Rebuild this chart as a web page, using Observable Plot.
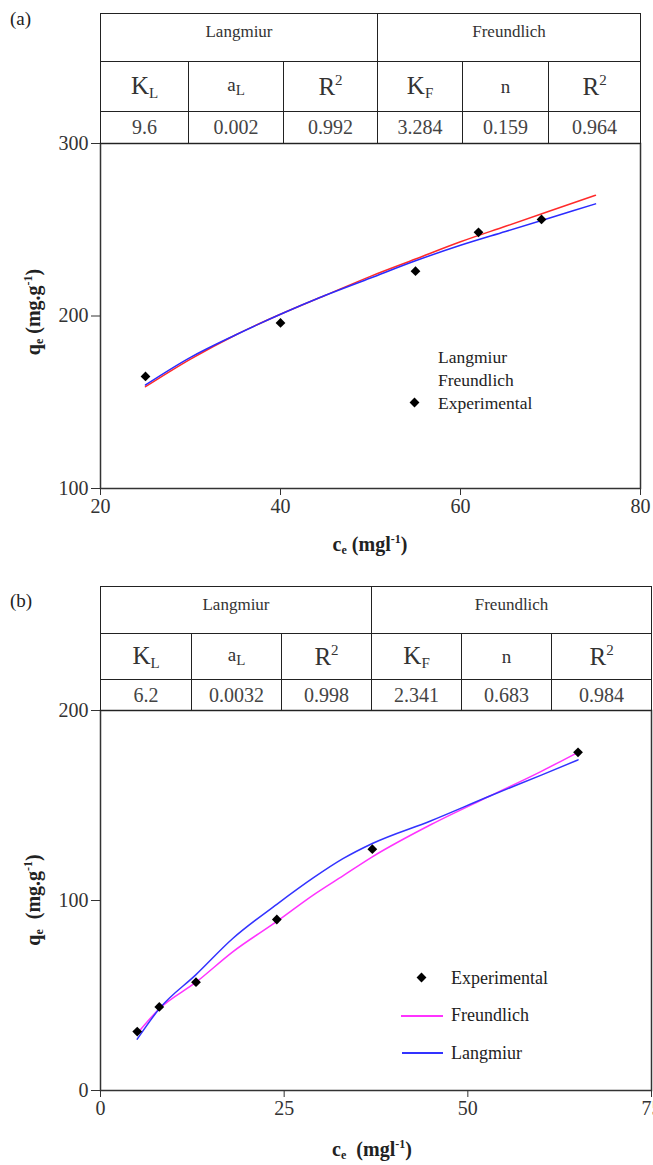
<!DOCTYPE html>
<html><head><meta charset="utf-8">
<script src="https://cdn.jsdelivr.net/npm/d3@7"></script>
<script src="https://cdn.jsdelivr.net/npm/@observablehq/plot@0.6"></script>
<style>
html,body{margin:0;padding:0;background:#fff;overflow:hidden;}
#root{position:relative;width:653px;height:1165px;font-family:"Liberation Serif","Times New Roman",serif;color:#222;overflow:hidden;}
.abs{position:absolute;white-space:nowrap;}
table.t{position:absolute;border-collapse:collapse;table-layout:fixed;}
table.t td{border:1.5px solid #222;text-align:center;padding:0;color:#333;}
td.h{font-size:17px;vertical-align:top;padding-top:8px !important;}
td.p{font-size:25px;}
td.p sub{font-size:15px;vertical-align:-4px;}
td.p sup{font-size:15px;vertical-align:10px;}
td.v{font-size:20px;color:#444 !important;}
.ttl{font-weight:bold;font-size:20px;color:#222;}
.ttl sub{font-size:12px;vertical-align:-3px;}
.ttl sup{font-size:12px;vertical-align:8px;}
.leg{font-size:18px;color:#222;}
</style></head><body><div id="root"></div>
<script>
// ---------- data ----------
const modelNames = ["Langmiur", "Freundlich"];
const paramLabels = ["K<sub>L</sub>", "a<sub>L</sub>", "R<sup>2</sup>", "K<sub>F</sub>", "n", "R<sup>2</sup>"];
const paramValuesA = ["9.6", "0.002", "0.992", "3.284", "0.159", "0.964"];
const paramValuesB = ["6.2", "0.0032", "0.998", "2.341", "0.683", "0.984"];

const xTicksA = [20, 40, 60, 80];
const yTicksA = [100, 200, 300];
const xTicksB = [0, 25, 50, 75];
const yTicksB = [0, 100, 200];

// panel (a)
const ceExpA = [25, 40, 55, 62, 69];
const qeExpA = [165, 196, 226, 248.5, 256];
const ceFitA = [25, 30, 35, 40, 45, 50, 55, 60, 65, 70, 75];
const qeFreundlichA = [159, 175, 189, 201, 212, 223, 233, 243, 252, 261, 270];
const qeLangmuirA   = [160, 176, 189, 201, 212, 222, 232, 241, 249, 257, 265];

// panel (b)
const ceExpB = [5, 8, 13, 24, 37, 65];
const qeExpB = [31, 44, 57, 90, 127, 178];
const ceFitB = [5, 8, 13, 18, 24, 29, 33, 37, 45, 53, 60, 65];
const qeFreundlichB = [30, 43, 57, 73, 89, 103, 113, 123, 140, 155, 168, 178];
const qeLangmuirB   = [27, 43, 61, 80, 98, 112, 122, 130, 142, 155, 166, 174];

// ---------- helpers ----------
const root = document.getElementById("root");
function el(tag, cls, css, html) {
  const e = document.createElement(tag);
  if (cls) e.className = cls;
  Object.assign(e.style, css);
  if (html != null) e.innerHTML = html;
  root.appendChild(e);
  return e;
}
const zip = (xs, ys) => xs.map((x, i) => ({x, y: ys[i]}));

function panel({top, height, mTop, mBottom, mRight, xDomain, yDomain, xTicks, yTicks, exp, fits}) {
  const svg = Plot.plot({
    width: 653, height,
    marginLeft: 100, marginRight: mRight, marginTop: mTop, marginBottom: mBottom,
    style: {fontFamily: "'Liberation Serif', 'Times New Roman', serif", fontSize: "20px", color: "#333", background: "transparent", overflow: "visible"},
    x: {domain: xDomain, ticks: xTicks, tickSize: 7, tickPadding: 3, label: null, tickFormat: d => String(d)},
    y: {domain: yDomain, ticks: yTicks, tickSize: 9, tickPadding: 3, label: null, tickFormat: d => String(d)},
    marks: [
      ...fits.map(f => Plot.line(f.data, {x: "x", y: "y", stroke: f.color, strokeWidth: 1.5, curve: "monotone-x"})),
      Plot.dot(exp, {x: "x", y: "y", symbol: "square", r: 3.9, rotate: 45, fill: "#000", stroke: "none"}),
      Plot.frame({stroke: "#333", strokeWidth: 1.5})
    ]
  });
  svg.style.position = "absolute";
  svg.style.left = "0px";
  svg.style.top = top + "px";
  root.appendChild(svg);
}

function table({left, top, colW, rowH, values}) {
  const t = document.createElement("table");
  t.className = "t";
  t.style.left = left + "px";
  t.style.top = top + "px";
  t.style.width = d3.sum(colW) + "px";
  const cg = document.createElement("colgroup");
  colW.forEach(w => { const c = document.createElement("col"); c.style.width = w + "px"; cg.appendChild(c); });
  t.appendChild(cg);
  const r1 = t.insertRow(); r1.style.height = rowH[0] + "px";
  modelNames.forEach(m => { const c = r1.insertCell(); c.colSpan = 3; c.className = "h"; c.textContent = m; });
  const r2 = t.insertRow(); r2.style.height = rowH[1] + "px";
  paramLabels.forEach((p, i) => { const c = r2.insertCell(); c.className = "p"; c.innerHTML = p; if (p === "n" || p.startsWith("a")) c.style.fontSize = "19px"; });
  const r3 = t.insertRow(); r3.style.height = rowH[2] + "px";
  values.forEach(v => { const c = r3.insertCell(); c.className = "v"; c.textContent = v; });
  root.appendChild(t);
}

// ---------- panel (a) ----------
panel({
  top: 0, height: 560, mTop: 143, mBottom: 72, mRight: 13,
  xDomain: [20, 80], yDomain: [100, 300], xTicks: xTicksA, yTicks: yTicksA,
  exp: zip(ceExpA, qeExpA),
  fits: [
    {data: zip(ceFitA, qeFreundlichA), color: "#ff2a2a"},
    {data: zip(ceFitA, qeLangmuirA), color: "#2b2bff"}
  ]
});
table({left: 100, top: 13, colW: [88, 95, 94, 85, 86, 92], rowH: [48, 50, 32], values: paramValuesA});
el("div", "abs", {left: "10px", top: "8px", fontSize: "19px", color: "#222"}, "(a)");
el("div", "abs ttl", {left: "370px", top: "545px", transform: "translate(-50%,-50%)"}, "c<sub>e</sub> (mgl<sup>-1</sup>)");
el("div", "abs ttl", {left: "34px", top: "312px", transform: "translate(-50%,-50%) rotate(-90deg)"}, "q<sub>e</sub> (mg.g<sup>-1</sup>)");
el("div", "abs leg", {left: "438px", top: "357px", fontSize: "17.5px", transform: "translateY(-50%)"}, modelNames[0]);
el("div", "abs leg", {left: "438px", top: "380px", fontSize: "17.5px", transform: "translateY(-50%)"}, modelNames[1]);
el("div", "abs leg", {left: "438px", top: "403px", fontSize: "17.5px", transform: "translateY(-50%)"}, "Experimental");
el("div", "abs", {left: "411px", top: "399px", width: "7px", height: "7px", background: "#000", transform: "rotate(45deg)"});

// ---------- panel (b) ----------
panel({
  top: 560, height: 605, mTop: 150, mBottom: 75, mRight: 2,
  xDomain: [0, 75], yDomain: [0, 200], xTicks: xTicksB, yTicks: yTicksB,
  exp: zip(ceExpB, qeExpB),
  fits: [
    {data: zip(ceFitB, qeFreundlichB), color: "#ff33ff"},
    {data: zip(ceFitB, qeLangmuirB), color: "#3333ff"}
  ]
});
table({left: 100, top: 586, colW: [91, 90, 90, 90, 90, 100], rowH: [47, 46, 31], values: paramValuesB});
el("div", "abs", {left: "10px", top: "590px", fontSize: "19px", color: "#222"}, "(b)");
el("div", "abs ttl", {left: "372px", top: "1150px", transform: "translate(-50%,-50%)"}, "c<sub>e</sub>&nbsp; (mgl<sup>-1</sup>)");
el("div", "abs ttl", {left: "34px", top: "900px", transform: "translate(-50%,-50%) rotate(-90deg)"}, "q<sub>e</sub>&nbsp; (mg.g<sup>-1</sup>)");
el("div", "abs", {left: "418px", top: "974px", width: "7px", height: "7px", background: "#000", transform: "rotate(45deg)"});
el("div", "abs leg", {left: "451px", top: "978px", transform: "translateY(-50%)"}, "Experimental");
el("div", "abs", {left: "401px", top: "1015px", width: "42px", height: "1.5px", background: "#ff33ff"});
el("div", "abs leg", {left: "451px", top: "1015px", transform: "translateY(-50%)"}, modelNames[1]);
el("div", "abs", {left: "402px", top: "1052px", width: "41px", height: "1.5px", background: "#3333ff"});
el("div", "abs leg", {left: "451px", top: "1053px", transform: "translateY(-50%)"}, modelNames[0]);
</script></body></html>
